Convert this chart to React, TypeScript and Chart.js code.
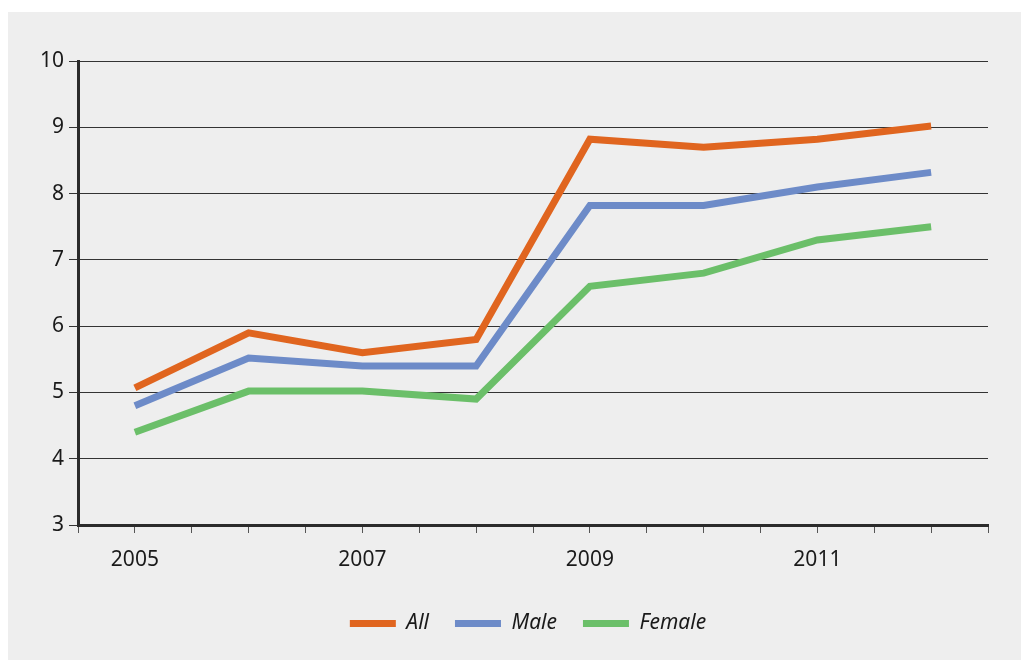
import React, { useEffect, useRef } from "react";
import { Chart, registerables } from "chart.js";

Chart.register(...registerables);

const years = [2005, 2006, 2007, 2008, 2009, 2010, 2011, 2012];
const allValues = [5.07, 5.9, 5.6, 5.8, 8.82, 8.7, 8.82, 9.02];
const maleValues = [4.8, 5.52, 5.4, 5.4, 7.82, 7.82, 8.1, 8.32];
const femaleValues = [4.4, 5.02, 5.02, 4.9, 6.6, 6.8, 7.3, 7.5];
const shownYearLabels = [2005, 2007, 2009, 2011];

const FONT = "'Noto Sans', 'Open Sans', sans-serif";

const legendShift = {
  id: "legendShift",
  beforeDraw(chart: any) {
    const lg = chart.legend;
    if (lg && !lg._shifted) {
      lg.left += 60;
      lg._shifted = true;
    }
  },
  afterLayout(chart: any) {
    if (chart.legend) chart.legend._shifted = false;
  },
};

export default function App() {
  const ref = useRef<HTMLCanvasElement | null>(null);

  useEffect(() => {
    document.body.style.margin = "0";
    const canvas = ref.current;
    if (!canvas) return;
    const mk = (label: string, vals: number[], color: string) => ({
      label,
      data: years.map((y, i) => ({ x: y, y: vals[i] })),
      borderColor: color,
      backgroundColor: color,
      borderWidth: 7,
      pointRadius: 0,
      tension: 0,
      borderJoinStyle: "miter" as const,
      borderCapStyle: "butt" as const,
    });
    const chart = new Chart(canvas, {
      type: "line",
      data: {
        datasets: [
          mk("All", allValues, "#e0651f"),
          mk("Male", maleValues, "#6d8bc8"),
          mk("Female", femaleValues, "#6bbf69"),
        ],
      },
      plugins: [legendShift],
      options: {
        animation: false,
        responsive: false,
        maintainAspectRatio: false,
        layout: { padding: { left: 0, right: 33, top: 49, bottom: 16 } },
        plugins: {
          tooltip: { enabled: false },
          legend: {
            position: "bottom",
            labels: {
              boxWidth: 46,
              boxHeight: 7,
              padding: 26,
              color: "#1a1a1a",
              font: { family: FONT, size: 21, style: "italic" },
              generateLabels: (c: any) =>
                Chart.defaults.plugins.legend.labels
                  .generateLabels(c)
                  .map((l: any) => ({ ...l, lineWidth: 0, fillStyle: l.strokeStyle })),
            },
          },
        },
        scales: {
          x: {
            type: "linear",
            min: 2004.5,
            max: 2012.5,
            afterFit: (s: any) => {
              s.height = 62;
            },
            ticks: {
              stepSize: 0.5,
              autoSkip: false,
              maxRotation: 0,
              padding: 14,
              color: "#1a1a1a",
              font: { family: FONT, size: 21 },
              callback: (v: any) =>
                shownYearLabels.includes(Number(v)) ? String(v) : "",
            },
            grid: {
              drawOnChartArea: false,
              drawTicks: true,
              tickLength: 8,
              color: "#555555",
              lineWidth: 1,
            },
            border: { display: true, color: "#2b2b2b", width: 3 },
          },
          y: {
            min: 3,
            max: 10,
            afterFit: (s: any) => {
              s.width = 70;
            },
            ticks: {
              stepSize: 1,
              padding: 5,
              color: "#1a1a1a",
              font: { family: FONT, size: 21 },
            },
            grid: {
              color: "#333333",
              lineWidth: 1,
              tickLength: 9,
            },
            border: { display: true, color: "#2b2b2b", width: 3 },
          },
        },
      },
    });
    return () => chart.destroy();
  }, []);

  return (
    <div
      style={{
        marginLeft: 8,
        marginTop: 12,
        width: 1013,
        height: 648,
        background: "#eeeeee",
      }}
    >
      <canvas ref={ref} width={1013} height={648} style={{ display: "block" }} />
    </div>
  );
}
